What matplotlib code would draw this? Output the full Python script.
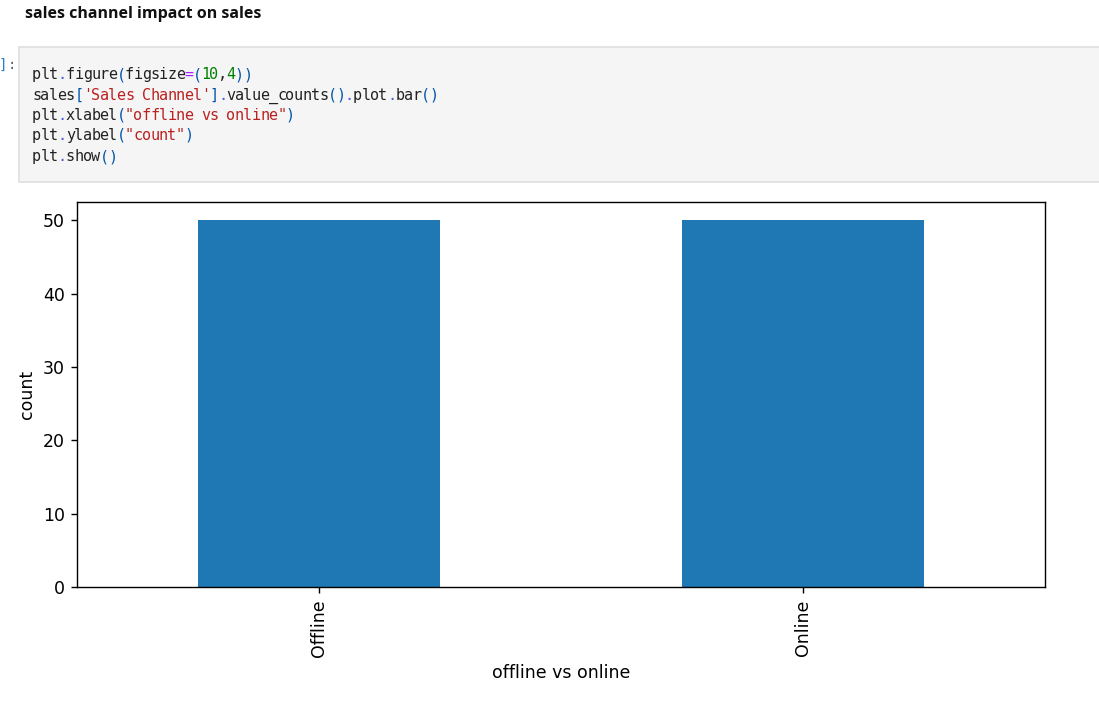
import matplotlib.pyplot as plt
from matplotlib.patches import Rectangle

# data
channels = ["Offline", "Online"]
counts = [50, 50]

W, H = 1099, 707
DPI = 125

fig = plt.figure(figsize=(W / DPI, H / DPI), dpi=DPI)
fig.patch.set_facecolor("white")


def fx(x):
    return x / W


def fy(y):
    return 1 - y / H


# heading
fig.text(fx(25), fy(14), "sales channel impact on sales", fontsize=9.2,
         fontweight="bold", family="Open Sans", va="center", ha="left",
         color="#111111")

# code cell box
fig.patches.append(Rectangle((fx(19), fy(182)), fx(1099 - 19) + 0.01, (182 - 47) / H,
                             transform=fig.transFigure, facecolor="#f5f5f5",
                             edgecolor="#e0e0e0", linewidth=1.0))
fig.text(fx(-1), fy(65), "]", fontsize=8, family="DejaVu Sans Mono",
         color="#307fc1", va="center", ha="left")
fig.text(fx(8), fy(65), ":", fontsize=8, family="DejaVu Sans Mono",
         color="#616161", va="center", ha="left")

K = "#222222"   # names
P = "#0055aa"   # brackets
D = "#4d5bd6"   # dots
O = "#aa22ff"   # operator
N = "#008000"   # numbers
S = "#ba2121"   # strings

code_lines = [
    [("plt", K), (".", D), ("figure", K), ("(", P), ("figsize", K), ("=", O),
     ("(", P), ("10", N), (",", K), ("4", N), ("))", P)],
    [("sales", K), ("[", P), ("'Sales Channel'", S), ("]", P), (".", D),
     ("value_counts", K), ("()", P), (".", D), ("plot", K), (".", D),
     ("bar", K), ("()", P)],
    [("plt", K), (".", D), ("xlabel", K), ("(", P), ('"offline vs online"', S),
     (")", P)],
    [("plt", K), (".", D), ("ylabel", K), ("(", P), ('"count"', S), (")", P)],
    [("plt", K), (".", D), ("show", K), ("()", P)],
]

char_w = 8.45
line_y = [79, 100, 120, 140, 161]   # baselines
for y, line in zip(line_y, code_lines):
    col = 0
    for tok, c in line:
        for ch in tok:
            fig.text(fx(32 + col * char_w), fy(y), ch, fontsize=8.7,
                     family="DejaVu Sans Mono", color=c, va="baseline", ha="left")
            col += 1

# chart
ax = fig.add_axes([fx(77), (H - 587) / H, (1045 - 77) / W, (587 - 202) / H])
ax.bar(range(len(channels)), counts, width=0.5, color="#1f77b4")
ax.set_xlim(-0.5, len(channels) - 0.5)
ax.set_xticks(range(len(channels)))
ax.set_xticklabels(channels, rotation=90)
ax.set_xlabel("offline vs online")
ax.set_ylabel("count")

fig.savefig("out.png", dpi=DPI)
